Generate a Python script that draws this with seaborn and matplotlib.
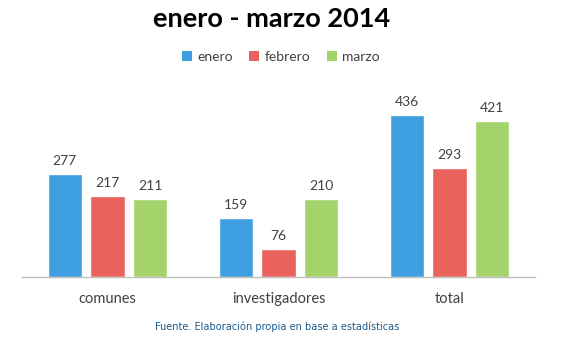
import matplotlib
matplotlib.use("Agg")
import matplotlib.pyplot as plt
import seaborn as sns
import pandas as pd

categories = ["comunes", "investigadores", "total"]
months = ["enero", "febrero", "marzo"]
enero = [277, 159, 436]
febrero = [217, 76, 293]
marzo = [211, 210, 421]

colors = ["#3d9fe0", "#e9625c", "#a3d36a"]

rows = []
for m, vals in zip(months, [enero, febrero, marzo]):
    for c, v in zip(categories, vals):
        rows.append({"cat": c, "mes": m, "valor": v})
df = pd.DataFrame(rows)

sns.set_theme(style="white")
plt.rcParams["font.family"] = ["Lato", "DejaVu Sans"]

fig = plt.figure(figsize=(5.62, 3.5), dpi=100)
ax = fig.add_axes([0.039, 0.209, 0.913, 0.548])
sns.barplot(data=df, x="cat", y="valor", hue="mes", order=categories,
            hue_order=months, palette=colors, width=0.75, gap=0.2,
            saturation=1, ax=ax, legend=False)

ax.set_ylim(0, 517)
ax.set_xlim(-0.5, 2.5)
for s in ["top", "right", "left"]:
    ax.spines[s].set_visible(False)
ax.spines["bottom"].set_color("#bfbfbf")
ax.spines["bottom"].set_linewidth(1)
ax.set_yticks([])
ax.set_xlabel("")
ax.set_ylabel("")
ax.tick_params(axis="x", length=0, pad=11, labelsize=10.5, labelcolor="#404040")

for cont in ax.containers:
    ax.bar_label(cont, padding=5, fontsize=10, color="#404040")

fig.text(0.483, 0.945, "enero - marzo 2014", ha="center", va="center",
         fontsize=19.5, fontweight="bold", color="#000000")

from matplotlib.patches import Patch
handles = [Patch(facecolor=c, edgecolor="none") for c in colors]
fig.legend(handles, months, loc="center", bbox_to_anchor=(0.5, 0.837),
           ncol=3, frameon=False, fontsize=10, handlelength=0.7,
           handleheight=0.7, handletextpad=0.4, columnspacing=1.2,
           labelcolor="#404040")

fig.text(0.493, 0.065, "Fuente. Elaboración propia en base a estadísticas",
         ha="center", va="center", fontsize=7.8, color="#1d5c8c",
         family="DejaVu Sans", fontstretch="condensed")

fig.savefig("out.png", dpi=100)
